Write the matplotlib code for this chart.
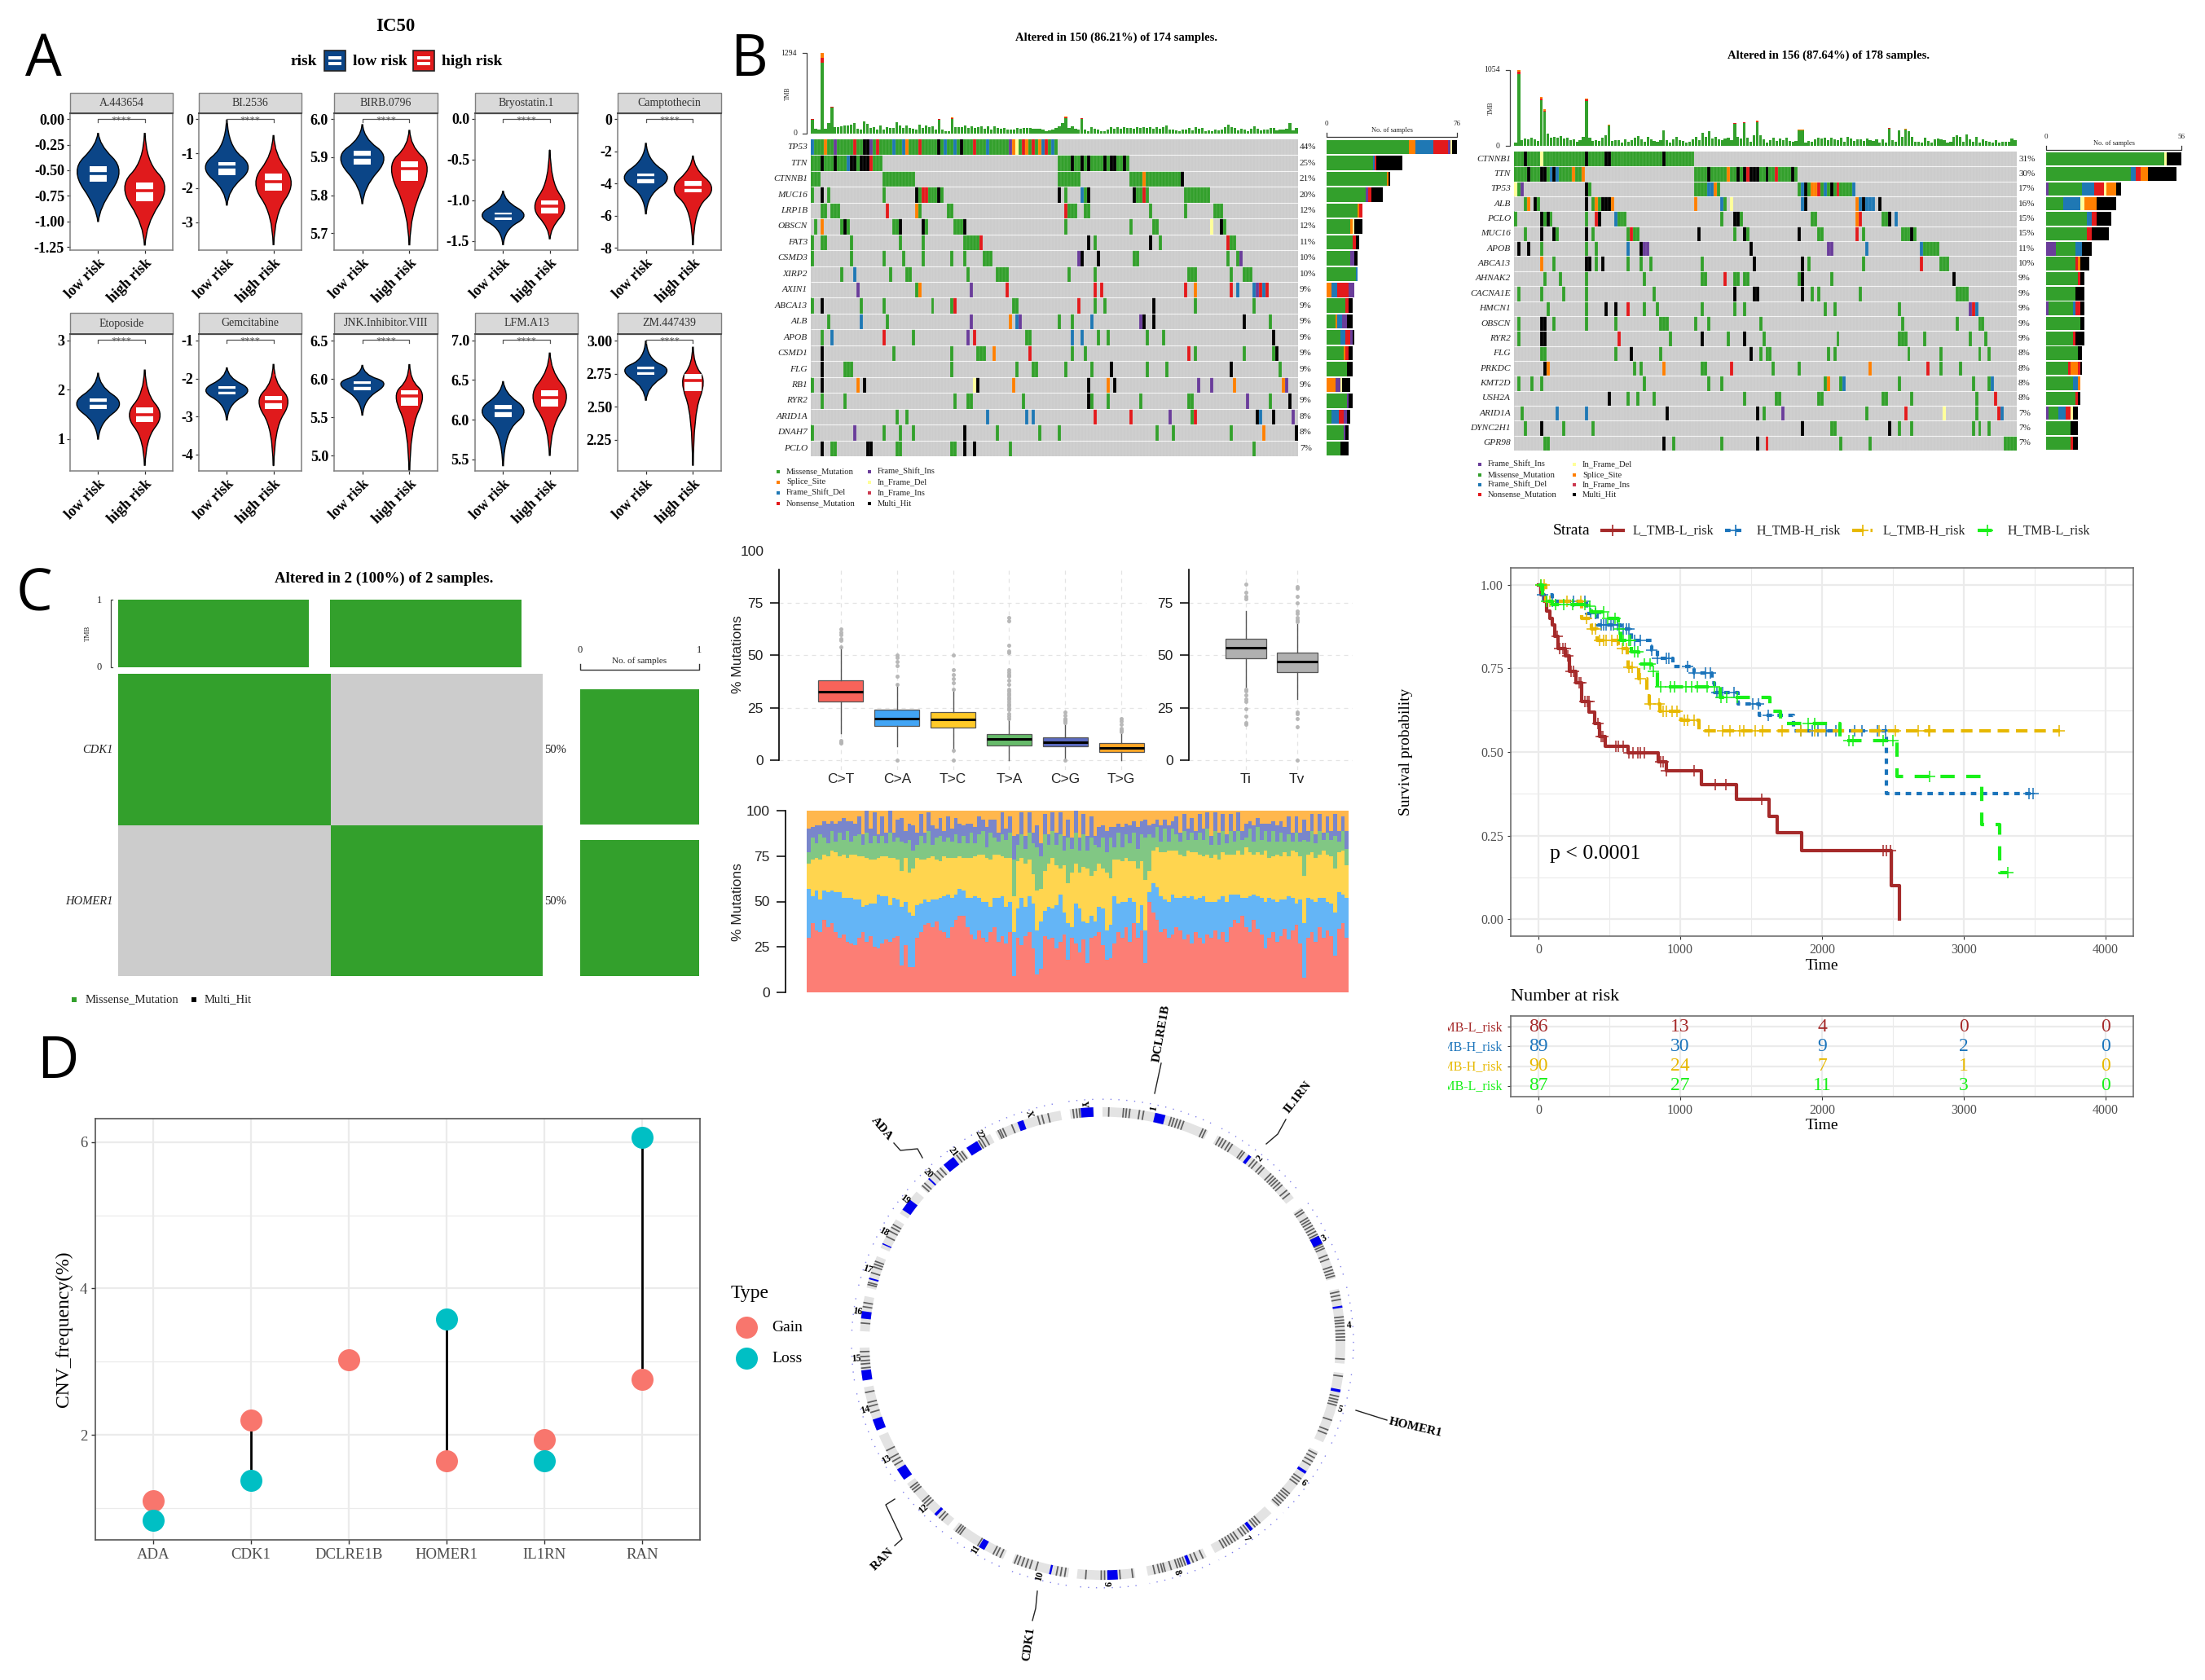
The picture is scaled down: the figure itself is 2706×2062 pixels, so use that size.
"""Composite figure: IC50 violins, oncoplots, TMB survival, CNV frequency and circos."""
import re

import matplotlib

matplotlib.use("Agg")
import matplotlib.pyplot as plt
import numpy as np
from matplotlib.colors import ListedColormap
from matplotlib.patches import PathPatch, Rectangle
from matplotlib.path import Path
from matplotlib.transforms import Bbox, TransformedBbox

W, H = 2706, 2062
SERIF = "Liberation Serif"
SANS = "Liberation Sans"
plt.rcParams["font.family"] = [SERIF, "DejaVu Sans"]

# ---- panel A
a_drugs = ["A.443654", "BI.2536", "BIRB.0796", "Bryostatin.1", "Camptothecin",
           "Etoposide", "Gemcitabine", "JNK.Inhibitor.VIII", "LFM.A13", "ZM.447439"]
a_ylims = [(-1.28, 0.057), (-3.81, 0.17), (5.656, 6.015), (-1.614, 0.07), (-8.14, 0.36),
           (0.356, 3.13), (-4.43, -0.83), (4.80, 6.59), (5.354, 7.08), (2.015, 3.05)]
a_ticks = [[0, -0.25, -0.5, -0.75, -1.0, -1.25], [0, -1, -2, -3], [6.0, 5.9, 5.8, 5.7],
           [0, -0.5, -1.0, -1.5], [0, -2, -4, -6, -8], [3, 2, 1], [-1, -2, -3, -4],
           [6.5, 6.0, 5.5, 5.0], [7.0, 6.5, 6.0, 5.5], [3.0, 2.75, 2.5, 2.25]]
a_ticklabels = [["0.00", "-0.25", "-0.50", "-0.75", "-1.00", "-1.25"], ["0", "-1", "-2", "-3"],
                ["6.0", "5.9", "5.8", "5.7"], ["0.0", "-0.5", "-1.0", "-1.5"],
                ["0", "-2", "-4", "-6", "-8"], ["3", "2", "1"], ["-1", "-2", "-3", "-4"],
                ["6.5", "6.0", "5.5", "5.0"], ["7.0", "6.5", "6.0", "5.5"],
                ["3.00", "2.75", "2.50", "2.25"]]
# lo tip, lower neck, widest, upper neck, hi tip, half width, q1, median, q3, outliers
a_low = [(-1.00, -0.87, -0.50, -0.25, -0.14, .45, -0.61, -0.53, -0.46, []),
         (-2.50, -2.07, -1.40, -0.78, -0.03, .46, -1.62, -1.40, -1.25, [-2.2]),
         (5.778, 5.82, 5.90, 5.95, 5.985, .46, 5.88, 5.90, 5.916, [5.82]),
         (-1.546, -1.365, -1.187, -1.005, -0.89, .45, -1.246, -1.195, -1.153, [-1.42]),
         (-5.885, -4.75, -3.65, -2.5, -1.51, .46, -4.0, -3.65, -3.37, [-5.1]),
         (1.0, 1.32, 1.72, 2.08, 2.335, .46, 1.61, 1.72, 1.824, [2.15]),
         (-3.09, -2.69, -2.31, -1.97, -1.72, .45, -2.42, -2.31, -2.21, []),
         (5.53, 5.73, 5.95, 6.06, 6.18, .46, 5.85, 5.915, 5.97, [5.68]),
         (5.42, 5.845, 6.11, 6.34, 6.48, .45, 6.03, 6.11, 6.19, [5.76]),
         (2.55, 2.644, 2.78, 2.863, 2.997, .45, 2.74, 2.773, 2.804, [])]
a_high = [(-1.23, -1.03, -0.66, -0.41, -0.14, .43, -0.80, -0.70, -0.62, [-1.09, -0.35]),
          (-3.65, -2.77, -1.85, -1.03, -0.48, .38, -2.07, -1.83, -1.58, [-0.83, -2.75]),
          (5.67, 5.754, 5.877, 5.93, 5.97, .38, 5.838, 5.869, 5.889, [5.755]),
          (-1.474, -1.343, -1.09, -0.773, -0.384, .32, -1.162, -1.077, -1.00, [-0.75]),
          (-7.8, -5.6, -4.33, -3.05, -2.3, .40, -4.54, -4.22, -3.84, [-5.8]),
          (0.47, 1.0, 1.49, 1.94, 2.40, .33, 1.34, 1.49, 1.64, [0.87, 2.08]),
          (-4.29, -3.32, -2.58, -2.1, -1.63, .31, -2.8, -2.6, -2.45, [-3.3, -1.9]),
          (4.77, 5.35, 5.80, 5.99, 6.19, .28, 5.65, 5.78, 5.85, [5.36]),
          (5.55, 5.91, 6.30, 6.62, 6.84, .36, 6.17, 6.28, 6.375, [5.91, 6.68]),
          (2.057, 2.44, 2.70, 2.825, 2.95, .22, 2.62, 2.696, 2.747, [2.44])]
LOW_COL = "#0B4587"
HIGH_COL = "#E01A1C"

# ---- oncoplots: tokens are sample column (or range) + mutation code
CODES = "msdnifrh"
ONCO_COLS = ["#CCCCCC", "#33A02C", "#FF7F00", "#1F78B4", "#E31A1C", "#6A3D9A", "#FFFF99", "#CC3A50", "#000000"]
LEG_NAMES = {"m": "Missense_Mutation", "s": "Splice_Site", "d": "Frame_Shift_Del", "n": "Nonsense_Mutation",
             "i": "Frame_Shift_Ins", "f": "In_Frame_Del", "r": "In_Frame_Ins", "h": "Multi_Hit"}

left_genes = ["TP53", "TTN", "CTNNB1", "MUC16", "LRP1B", "OBSCN", "FAT3", "CSMD3", "XIRP2", "AXIN1",
              "ABCA13", "ALB", "APOB", "CSMD1", "FLG", "RB1", "RYR2", "ARID1A", "DNAH7", "PCLO"]
left_pcts = [44, 25, 21, 20, 12, 12, 11, 10, 10, 9, 9, 9, 9, 9, 9, 9, 9, 8, 8, 7]
left_rows = [
    "0-75m 0d 4s 7i 13n 16-17h 18i 20n 25d 28d 29s 33n 39h 41d 44d 46h 50n 54d 61i 62s 63f 65n 66s 68n 70s 71d 72n 74d",
    "0-21m 3h 7h 11d 12-13h 15-17h 18n 76-97m 80h 83h 85h 90h 92-93h 96h",
    "0-2m 22-31m 76-82m 98-114m 102s 114h",
    "0m 3h 5m 22m 32h 33m 34-35n 36-38m 39h 40m 76h 78m 83d 84m 85h 99h 100-101m 102n 103m 115-122m",
    "3-4m 6-8m 23n 32s 33m 42-43m 78n 79-81m 84-85m 104m 115m 124-126m",
    "1m 3s 9m 10h 11m 25-26m 27h 34h 35m 44-46m 47h 78m 98m 105-106m 123f 126h 127m",
    "0m 3-4m 12m 27m 34m 47-51m 52n 85h 87m 104h 107m 128n 129-130m",
    "0m 12m 22m 28m 34m 43m 47m 53-55m 82i 83h 88h 99-100m 128m 131m 132i",
    "9m 13d 24m 29-30m 48m 57-60m 79m 87m 116-118m 129m 133-135m",
    "14i 32m 33s 49i 60n 87n 89n 115n 118s 129n 131d 136d 137i 138n 139d 140n",
    "0m 3h 15m 22m 37m 43m 44n 62-63m 82n 87m 90m 105h 118m 136m",
    "5m 15d 23m 49i 61s 63d 64i 76m 80m 86d 101i 102h 105h 133h 141m",
    "3m 6d 22n 31m 48i 50n 66-67m 80d 83d 88m 91m 103m 108m 142h",
    "3h 25m 43m 51-52m 53m 56s 67n 80m 84m 116n 118m 133m 142m 143h",
    "3h 10-12m 43m 63m 68-69m 78m 86m 92h 103m 109m 129h 144m",
    "0m 3h 14s 16h 50f 51h 62s 85h 91s 93h 119i 123i 130s 145s 146i",
    "3m 10m 44m 48-49m 65m 85h 86m 91m 101m 116-117m 134i 141m 147h",
    "26m 29m 54d 66d 68d 87n 98n 110i 117m 118n 137h 138d 142h 148i",
    "0m 13i 22m 27m 31m 47h 57m 70m 76m 106m 111m 129m 139s 149h",
    "3h 6-7m 17-18h 26-27m 43-44m 47h 50h 61m 136m",
]
left_bars = ["m48 s4 d10 n9 i1 f1 h3", "m27 d1 n1 h15", "m35 s1 h1", "m23 i1 n2 h7", "m18 s1 n2", "m14 s1 f1 h5",
             "m15 n2 h2", "m14 i2 h2", "m17 d1", "s3 d3 n7 i3", "m11 n2 h2", "m5 s1 d3 i3 h3", "m8 d3 n3 i1 h1",
             "m10 s1 n2 h2", "m12 h3", "s5 i3 f1 h5", "m12 i1 h2", "m3 d4 n3 i2 h2", "m10 i1 h2", "m8 h5"]
left_tmb = [240, 75, 70, 1294, 75, 175, 436, 110, 110, 120,
            130, 135, 150, 175, 75, 60, 190, 160, 85, 110,
            65, 130, 70, 105, 90, 95, 180, 130, 85, 130,
            95, 80, 70, 145, 85, 130, 110, 120, 60, 240,
            65, 40, 40, 255, 110, 105, 110, 125, 95, 115,
            90, 110, 120, 80, 115, 65, 120, 90, 75, 95,
            60, 70, 65, 90, 80, 95, 85, 90, 80, 80,
            75, 60, 45, 50, 70, 95, 120, 170, 270, 85,
            115, 75, 60, 250, 60, 35, 110, 80, 60, 45,
            35, 60, 105, 75, 110, 80, 105, 90, 95, 80,
            100, 90, 100, 95, 105, 75, 110, 80, 105, 130,
            70, 60, 55, 40, 60, 60, 85, 55, 100, 75,
            85, 35, 50, 40, 65, 50, 70, 105, 140, 110,
            90, 50, 80, 70, 40, 75, 120, 80, 50, 65,
            60, 90, 85, 50, 70, 60, 80, 170, 55, 90]
left_top_cols = [0, 3, 5, 6, 39, 43, 78, 83]
left_top_vals = [15, 160, 10, 20, 15, 20, 18, 12]
left_legend = [["m", "s", "d", "n"], ["i", "f", "r", "h"]]

right_genes = ["CTNNB1", "TTN", "TP53", "ALB", "PCLO", "MUC16", "APOB", "ABCA13", "AHNAK2", "CACNA1E",
               "HMCN1", "OBSCN", "RYR2", "FLG", "PRKDC", "KMT2D", "USH2A", "ARID1A", "DYNC2H1", "GPR98"]
right_pcts = [31, 30, 17, 16, 15, 15, 11, 10, 9, 9, 9, 9, 9, 8, 8, 8, 8, 7, 7, 7]
right_rows = [
    "0-55m 3h 8f 22h 28-29h 46h",
    "0-21m 4h 8-9h 11d 12h 13d 18s 21s 56-87m 60h 66s 69h 71h 72n 73-75h 78h 81n 86h",
    "0f 1m 2i 22h 23m 56-63m 60-61d 62s 88-105m 89d 90h 92-93s 94n 96d 98h 100n 105d",
    "3m 4s 6h 7m 22h 24m 25s 26m 27-29h 30s 56s 64d 65m 67f 89d 90h 106s 107d 108h 109-111d 113h",
    "0m 8h 9m 10h 11m 22m 25n 26h 31d 32-34m 64m 68-69h 70m 92-93m 106s 107n 114-115m 116h 118d",
    "3m 8h 12h 13m 22h 24m 35m 36n 37-38m 57h 68m 71h 72m 88h 94-95m 106n 108m 120-122m 123h 124m",
    "1h 4h 8m 22m 25m 35d 39h 40-41i 73h 97-98i 109d 126d 127-131m",
    "8s 12m 22-23h 25m 27h 35m 39m 42m 58m 74h 89h 91m 108m 126n 132-134m",
    "9m 14m 22m 40m 58-59m 65n 68-69m 71-72m 88m 89h 98m 136h",
    "1m 8m 15m 22m 43m 68h 74-75h 89h 92m 94m 107m 137-140m",
    "10m 22m 28h 31h 35n 40m 44m 58m 68m 71m 96m 99m 119m 141i 142n 143d",
    "1m 8-9h 12m 22m 31m 45-47m 56m 60m 76m 120m 137m 144-145m",
    "1m 8-9h 32n 48m 58h 66m 71h 77m 100m 119-121m 127m 141m 146m",
    "8-9m 31m 36h 45m 73h 76m 78-79m 97m 99m 122m 132m 144m 147m",
    "9h 10s 37m 39m 46s 58-59m 67n 80m 88m 110s 128n 132m 138m",
    "1m 5m 8m 40m 60m 64m 96m 97s 101m 102d 119m 142m 147m 148d",
    "29h 35m 38m 43m 71m 81-82m 94-95m 114-115m 123m 143m 149n",
    "2m 13d 22d 47h 75h 77m 83i 109m 121n 133f 143m 150n 151d",
    "3m 8h 15m 24m 89h 98-99m 116h 119m 123m 142m 144m 147m",
    "9-10m 46h 49m 64m 75h 78n 101m 110m 152-155m",
]
right_bars = ["m49 f1 h6", "m35 d2 n2 s3 h12", "i1 m14 d5 n4 f1 s4 h2", "m7 d7 f2 s5 h8", "m17 d2 n2 h6", "m17 n2 h7",
              "i4 m8 d3 h4", "m12 n1 s1 h4", "m13 n1 h2", "m12 h4", "i1 m10 d1 n2 h2", "m14 h2", "m11 n1 h4", "m13 h2",
              "m9 n1 s3 n1 h1", "m11 d2 s1", "m12 n1 h1", "i1 m4 d3 n2 f1 h2", "m10 h3", "m10 n1 h2"]
right_tmb = [40, 1054, 85, 100, 90, 115, 90, 65, 680, 505,
             170, 110, 120, 110, 135, 105, 110, 85, 95, 60,
             85, 130, 660, 110, 70, 75, 70, 110, 150, 290,
             65, 75, 85, 45, 90, 60, 85, 110, 140, 90,
             60, 125, 90, 70, 60, 80, 210, 80, 50, 90,
             120, 80, 70, 45, 60, 95, 120, 80, 180, 120,
             200, 100, 120, 90, 80, 100, 110, 75, 320, 120,
             100, 330, 110, 60, 145, 350, 150, 90, 50, 80,
             110, 70, 100, 80, 110, 70, 60, 65, 225, 225,
             50, 70, 60, 90, 110, 100, 110, 85, 110, 90,
             75, 110, 60, 130, 100, 70, 90, 90, 70, 100,
             75, 65, 95, 50, 90, 40, 250, 80, 60, 210,
             120, 235, 205, 120, 60, 55, 40, 110, 70, 50,
             90, 100, 90, 80, 50, 60, 130, 150, 120, 60,
             160, 90, 60, 120, 50, 95, 70, 60, 40, 75,
             50, 60, 60, 55, 100, 80]
right_top_cols = [1, 8, 9, 22, 29, 68, 71, 75, 88, 89, 116, 121]
right_top_vals = [55, 45, 30, 40, 12, 15, 15, 18, 10, 10, 10, 10]
right_legend = [["i", "m", "d", "n"], ["f", "s", "r", "h"]]

# ---- panel C, titv boxes
sub_names = ["C>T", "C>A", "T>C", "T>A", "C>G", "T>G"]
sub_cols = ["#F8635A", "#42A5F5", "#FFCA28", "#66BB6A", "#5C6BC0", "#FFA726"]
sub_q1 = [28, 16.5, 15.5, 7, 6.5, 4]
sub_med = [32.5, 20, 19.5, 10, 8.5, 6]
sub_q3 = [38, 24, 23, 12.5, 11, 8]
sub_lo = [13, 6.5, 5, 0, 0.5, 0]
sub_hi = [54, 36, 34, 20, 17, 13]
sub_fliers = [[62.5, 61, 60, 58, 57, 54, 9.5, 8.5, 8],
              [50, 49, 47, 45, 40, 36, 0],
              [50, 43, 41, 39, 37, 34, 4.7, 0],
              [68, 66.5, 55, 52, 51.5, 43, 42, 41, 40, 38, 36, 34, 33, 32, 31, 30, 29, 28, 27, 26, 25, 24, 22, 21, 20],
              [23, 21.5, 20, 19.5, 19, 18.5, 18, 0],
              [20, 18.5, 17, 15, 14.5, 14, 13.5]]
titv_names = ["Ti", "Tv"]
titv_q1 = [48.5, 42]
titv_med = [53.5, 47]
titv_q3 = [58, 51.5]
titv_lo = [35, 29]
titv_hi = [71, 65]
titv_fliers = [[84, 80, 78, 77, 34, 33, 31, 29, 28, 24.5, 21, 18, 17],
               [83, 82, 78, 75, 71, 70, 68, 67, 66, 23, 22, 20, 16, 0]]

stack_ct = [30, 38, 34, 33, 40, 36, 38, 33, 30, 32, 28, 27, 26, 30, 33, 28, 31, 25, 24, 27,
            29, 28, 30, 31, 15, 26, 14, 14, 30, 33, 37, 38, 36, 39, 34, 33, 30, 36, 40, 42,
            42, 36, 32, 29, 34, 30, 28, 33, 36, 28, 31, 27, 33, 9, 30, 26, 31, 33, 24, 10,
            13, 31, 29, 30, 24, 28, 32, 18, 30, 27, 22, 29, 16, 30, 31, 33, 26, 18, 19, 27,
            33, 30, 36, 28, 38, 30, 34, 16, 50, 44, 40, 33, 35, 30, 32, 36, 34, 29, 32, 27,
            33, 30, 27, 32, 30, 34, 29, 33, 28, 36, 40, 38, 42, 36, 33, 40, 35, 32, 24, 30,
            33, 28, 31, 35, 29, 34, 37, 27, 8, 30, 33, 28, 36, 30, 34, 31, 20, 35, 38, 30]
stack_ca = [27, 15, 22, 18, 16, 19, 18, 22, 25, 20, 24, 25, 25, 21, 14, 20, 18, 24, 30, 26,
            24, 20, 22, 20, 32, 24, 30, 28, 18, 16, 14, 12, 15, 12, 18, 20, 24, 16, 14, 15,
            14, 16, 20, 24, 18, 20, 22, 14, 16, 24, 22, 20, 17, 24, 16, 26, 16, 20, 25, 24,
            26, 14, 18, 16, 24, 26, 12, 20, 6, 22, 24, 10, 22, 12, 8, 14, 20, 16, 18, 26,
            16, 20, 14, 24, 12, 8, 14, 18, 5, 16, 18, 20, 16, 20, 22, 16, 18, 24, 20, 26,
            18, 22, 26, 18, 20, 16, 22, 20, 22, 18, 14, 16, 10, 16, 20, 14, 18, 20, 26, 22,
            18, 22, 20, 16, 24, 18, 12, 24, 30, 22, 18, 22, 16, 22, 16, 18, 24, 20, 16, 22]
stack_tc = [14, 20, 18, 22, 20, 20, 22, 22, 20, 24, 22, 24, 25, 24, 28, 26, 24, 24, 20, 22,
            22, 26, 22, 22, 20, 24, 22, 26, 26, 24, 22, 24, 24, 22, 20, 22, 20, 22, 20, 18,
            18, 22, 22, 22, 24, 26, 24, 26, 24, 24, 22, 27, 24, 20, 26, 22, 24, 20, 16, 22,
            18, 22, 24, 28, 22, 14, 26, 22, 30, 22, 20, 30, 30, 22, 28, 24, 22, 32, 26, 20,
            24, 22, 24, 20, 22, 30, 24, 28, 12, 18, 22, 24, 26, 28, 24, 26, 24, 22, 26, 24,
            26, 24, 22, 26, 24, 26, 22, 24, 26, 22, 22, 24, 24, 28, 24, 22, 24, 24, 28, 22,
            24, 26, 24, 26, 22, 26, 28, 24, 26, 24, 26, 24, 24, 26, 26, 26, 24, 22, 24, 18]
stack_ta = [6, 12, 8, 14, 9, 7, 11, 6, 13, 8, 15, 7, 10, 12, 6, 14, 9, 13, 8, 11,
            7, 14, 9, 12, 16, 8, 18, 10, 7, 13, 9, 15, 6, 12, 14, 8, 11, 9, 13, 7,
            12, 8, 14, 7, 11, 13, 6, 15, 9, 7, 12, 10, 14, 20, 9, 13, 8, 15, 17, 24,
            18, 20, 10, 15, 11, 19, 8, 25, 13, 17, 12, 18, 10, 21, 14, 9, 17, 11, 22, 7,
            15, 8, 13, 10, 16, 11, 15, 23, 20, 7, 11, 6, 13, 5, 12, 9, 7, 14, 6, 11,
            7, 12, 9, 14, 7, 13, 8, 12, 6, 13, 7, 11, 8, 5, 13, 7, 14, 8, 11, 9,
            14, 7, 13, 6, 12, 5, 11, 8, 20, 7, 12, 8, 13, 6, 12, 9, 18, 6, 11, 9]
stack_cg = [13, 6, 10, 5, 9, 11, 5, 10, 6, 12, 5, 11, 7, 10, 6, 12, 8, 13, 5, 11,
            6, 12, 5, 10, 13, 7, 9, 14, 7, 12, 6, 10, 11, 5, 10, 6, 12, 7, 9, 11,
            6, 11, 5, 9, 10, 6, 11, 7, 10, 5, 12, 6, 9, 13, 6, 12, 7, 11, 6, 12,
            7, 11, 6, 10, 7, 12, 8, 10, 6, 13, 7, 11, 8, 12, 5, 11, 7, 12, 6, 11,
            5, 11, 6, 10, 6, 12, 7, 10, 5, 8, 4, 9, 5, 9, 4, 10, 5, 9, 6, 8,
            5, 10, 6, 9, 5, 10, 7, 9, 5, 9, 6, 10, 5, 8, 4, 9, 5, 9, 4, 10,
            5, 9, 6, 8, 10, 5, 9, 5, 11, 6, 9, 5, 9, 4, 9, 5, 12, 6, 8, 10]
stack_cols = ["#FC7E75", "#64B5F6", "#FFD54F", "#81C784", "#7986CB", "#FFB74D"]

# ---- survival
km_names = ["L_TMB-L_risk", "H_TMB-H_risk", "L_TMB-H_risk", "H_TMB-L_risk"]
km_cols = ["#A52A2A", "#1B74BB", "#E7B800", "#19F019"]
km_ls = ["-", (0, (1.6, 1.6)), (0, (3.4, 2.0)), (0, (4.2, 3.4))]
km_t = [[0, 20, 40, 60, 80, 100, 118, 137, 192, 221, 266, 303, 358, 395, 432, 469, 635, 845, 904, 1151, 1399, 1624, 1686, 1856, 2487, 2546],
        [0, 30, 100, 340, 413, 579, 653, 800, 838, 948, 1096, 1225, 1244, 1410, 1557, 1797, 2454, 3494],
        [0, 50, 303, 376, 413, 561, 624, 635, 708, 764, 782, 856, 1004, 1133, 3680],
        [0, 30, 100, 340, 376, 469, 561, 579, 653, 708, 800, 838, 1280, 1631, 1705, 2129, 2528, 3125, 3255, 3310]]
km_s = [[1.0, .97, .95, .92, .90, .88, .845, .81, .787, .74, .707, .65, .62, .586, .546, .518, .497, .472, .443, .403, .36, .308, .258, .205, .102, 0.0],
        [1.0, .97, .95, .913, .879, .867, .833, .804, .779, .756, .735, .707, .678, .644, .609, .564, .375, .375],
        [1.0, .95, .90, .867, .833, .81, .787, .753, .718, .667, .644, .621, .596, .564, .564],
        [1.0, .95, .94, .936, .919, .90, .867, .833, .80, .764, .741, .695, .663, .621, .586, .533, .426, .283, .14, .14]]
km_cens = [[130, 150, 170, 190, 210, 230, 250, 290, 300, 330, 345, 355, 420, 440, 455, 545, 565, 600, 640, 665, 700, 720, 745, 860, 880, 905, 1100, 1250, 1320, 1575, 2430, 2455, 2480],
           [30, 100, 250, 330, 370, 400, 440, 460, 480, 510, 530, 560, 600, 620, 640, 680, 720, 800, 840, 900, 920, 1050, 1100, 1180, 1210, 1260, 1300, 1380, 1510, 1550, 1620, 1850, 1930, 1970, 2030, 2100, 2230, 2280, 2390, 2450, 3460, 3490],
           [20, 40, 80, 200, 300, 340, 380, 400, 430, 460, 480, 520, 560, 590, 620, 640, 660, 720, 790, 850, 880, 900, 940, 980, 1030, 1050, 1100, 1200, 1300, 1350, 1420, 1450, 1530, 1580, 1720, 1850, 1950, 2400, 2520, 2680, 2750, 2760, 3670],
           [20, 60, 120, 180, 240, 330, 360, 400, 460, 490, 540, 570, 600, 640, 650, 680, 700, 750, 790, 810, 860, 930, 960, 1040, 1080, 1120, 1190, 1240, 1290, 1330, 1400, 1900, 1950, 2190, 2220, 2430, 2500, 2760, 3310]]
risk_times = [0, 1000, 2000, 3000, 4000]
risk_rows = [[86, 13, 4, 0, 0], [89, 30, 9, 2, 0], [90, 24, 7, 1, 0], [87, 27, 11, 3, 0]]

# ---- CNV
cnv_genes = ["ADA", "CDK1", "DCLRE1B", "HOMER1", "IL1RN", "RAN"]
cnv_gain = [1.10, 2.20, 3.03, 1.65, 1.93, 2.76]
cnv_loss = [0.83, 1.38, np.nan, 3.58, 1.65, 6.06]

# ---- circos, angles clockwise from the top
chrom_names = [str(i) for i in range(1, 23)] + ["X", "Y"]
chrom_start = [0, 28.3, 54.9, 76.6, 97.2, 117.3, 135.9, 154.6, 172.2, 188.2, 204.2, 219.5, 235.7, 248.7, 261.3,
               273, 283.7, 293.9, 303.4, 311.5, 319.8, 326.6, 333.8, 352.2]
chrom_end = [25.8, 52, 73.9, 94.9, 114.7, 133.9, 152.4, 169.2, 186.1, 201.9, 218, 233.6, 247, 259.3, 269,
             281.6, 291.7, 301.7, 310, 318.7, 325, 332.4, 350, 358]
chrom_label_at = [12, 39.5, 64, 85.6, 105.9, 125.6, 144.4, 162.5, 179.2, 194.8, 211, 226.6, 241, 254, 266.3,
                  277.6, 288, 297.7, 306.8, 315, 322.8, 330.2, 342.7, 355.7]
blue_at = [13.8, 37.4, 63.9, 81, 101.6, 123.1, 142.1, 159.1, 177.6, 192.5, 209.9, 223.5, 236.3, 249.8, 262.2,
           277, 286, 295, 306, 314.3, 320.6, 327.4, 340.2, 356.3]
blue_w = [2.5, .8, 2, .5, .7, .7, .8, .8, 2.5, .5, 1.5, .7, 3, 2.8, 2.5, 1.8, .4, .3, 3, .4, 3, 3, 1.5, 3]
dark_at = [1.5, 5, 5.7, 6.5, 8.8, 9.8, 16.5, 17.2, 18, 18.8, 19.6, 24.5, 25.2,
           29, 29.8, 30.6, 31.6, 32.4, 35.2, 35.8, 38.8, 39.6, 41, 41.8, 44, 44.8, 45.5, 46.2, 47, 47.8, 49.5, 50.5,
           55.5, 56.2, 57.8, 58.5, 59.2, 60, 60.8, 61.6, 62.4, 63, 65, 65.6, 66.2, 68, 69, 71, 71.8, 72.6, 73.3,
           77.3, 78.2, 79.2, 83.5, 84.3, 85, 85.8, 86.8, 87.6, 88.4, 89.2, 93.8,
           98, 103, 103.8, 104.5, 105.2, 109, 111.5, 112.5,
           118, 119, 120, 121, 125, 125.8, 126.6, 129.5, 130.2, 131, 131.8, 132.6, 133.3,
           139.5, 140.3, 141, 143, 143.8, 144.6, 146, 146.8, 147.6, 148.4, 149.2, 150,
           155.5, 157, 158, 160, 160.7, 161.3, 162, 163.5, 165, 165.6, 166.4, 167.5,
           172.8, 175.8, 178.5, 179.5, 180.3, 184,
           189, 190, 191, 196, 197.5, 198.5, 199.5, 200.5, 201.3,
           205, 206, 206.8, 211, 216, 216.6, 217.2,
           221.5, 222.3, 226.5, 227.3, 228, 231, 231.7, 232.4,
           239, 240, 241, 243, 253, 254.5, 255.5, 258,
           264, 265, 265.8, 266.8, 268, 275, 279, 280,
           284.5, 285, 287.5, 289, 289.7, 290.4, 297, 298.5, 299.5, 300.3,
           312, 312.8, 316, 317, 318, 323, 323.8, 324.5, 328.5, 329.3, 330, 331,
           334.5, 335, 335.7, 338, 344.5, 345.5, 347, 353, 353.8, 354.5]

fig = plt.figure(figsize=(W / 100, H / 100), dpi=100, facecolor="white")


def ax_px(x0, y0, x1, y1, **kw):
    return fig.add_axes([x0 / W, 1 - y1 / H, (x1 - x0) / W, (y1 - y0) / H], **kw)


ov = fig.add_axes([0, 0, 1, 1], zorder=100)
ov.set_xlim(0, W)
ov.set_ylim(H, 0)
ov.axis("off")


def txt(x, y, s, size=10, ha="center", va="center", **kw):
    return ov.text(x, y, s, fontsize=size, ha=ha, va=va, **kw)


def violin_path(lo, shlo, peak, shhi, hi, w, xc):
    ys = [lo, shlo, peak, shhi, hi]
    hw = [.008, .06 * w, 1.31 * w, .06 * w, .008]
    ctrl = [(xc + h, y) for h, y in zip(hw, ys)] + [(xc - h, y) for h, y in zip(hw[::-1], ys[::-1])]
    verts = [ctrl[0]]
    codes = [Path.MOVETO]
    for k, side in enumerate((ctrl[:5], ctrl[5:])):
        if k:
            verts.append(side[0])
            codes.append(Path.LINETO)
        for i in range(1, 4):
            nxt = side[i + 1] if i == 3 else ((side[i][0] + side[i + 1][0]) / 2, (side[i][1] + side[i + 1][1]) / 2)
            verts += [side[i], nxt]
            codes += [Path.CURVE3, Path.CURVE3]
    verts.append(ctrl[0])
    codes.append(Path.CLOSEPOLY)
    return Path(verts, codes)


def draw_violin(ax, spec, xc, col):
    lo, shlo, peak, shhi, hi, w, q1, med, q3, fl = spec
    ax.add_patch(PathPatch(violin_path(lo, shlo, peak, shhi, hi, w, xc), fc=col, ec="black", lw=1.0))
    ax.add_patch(Rectangle((xc - .18, q1), .36, q3 - q1, fc="white", ec="none", zorder=3))
    ax.plot([xc - .18, xc + .18], [med, med], color=col, lw=2.6, solid_capstyle="butt", zorder=4)
    if fl:
        ax.plot([xc] * len(fl), fl, "o", ms=2.4, color=col, alpha=.7, mew=0, zorder=4)


a_cols = [(86, 212), (244, 370), (410, 537), (583, 709), (758, 885)]
a_rows = [(114, 139, 307), (384, 410, 578)]
for i, drug in enumerate(a_drugs):
    x0, x1 = a_cols[i % 5]
    ys, yt, yb = a_rows[i // 5]
    ax = ax_px(x0, yt, x1, yb)
    ax.set_xlim(.4, 2.6)
    ax.set_ylim(*a_ylims[i])
    draw_violin(ax, a_low[i], 1, LOW_COL)
    draw_violin(ax, a_high[i], 2, HIGH_COL)
    ax.set_xticks([1, 2])
    ax.set_xticklabels(["low risk", "high risk"], rotation=45, ha="right", va="top", rotation_mode="anchor",
                       fontsize=13, fontweight="bold")
    ax.set_yticks(a_ticks[i])
    ax.set_yticklabels(a_ticklabels[i], fontsize=13, fontweight="bold")
    ax.tick_params(length=3, width=.9, color="#333333", pad=2)
    for s in ax.spines.values():
        s.set_color("#7f7f7f")
        s.set_linewidth(1.1)
    tr = ax.get_xaxis_transform()
    ax.plot([1, 1, 2, 2], [.935, .957, .957, .935], color="#555555", lw=.9, transform=tr)
    ax.text(1.5, .948, "****", transform=tr, ha="center", va="center", fontsize=9, color="#555555", zorder=6)
    ov.add_patch(Rectangle((x0, ys), x1 - x0, yt - ys, fc="#D9D9D9", ec="#7f7f7f", lw=1))
    ov.plot([x0, x1], [yt, yt], color="#444444", lw=1.3)
    txt((x0 + x1) / 2, (ys + yt) / 2, drug, 10, color="#333333")

txt(485, 33, "IC50", 16.5, fontweight="bold")
txt(373, 75, "risk", 14, fontweight="bold")
txt(433, 75, "low risk", 14, ha="left", fontweight="bold")
txt(542, 75, "high risk", 14, ha="left", fontweight="bold")
for kx, kc in ((398, LOW_COL), (507, HIGH_COL)):
    ov.add_patch(Rectangle((kx, 62), 26, 25, fc=kc, ec="#222222", lw=1.2))
    ov.add_patch(Rectangle((kx + 5, 68.5), 16, 4, fc="white", ec="none"))
    ov.add_patch(Rectangle((kx + 5, 76), 16, 4, fc="white", ec="none"))

for letter, lx, ly in (("A", 31, 93), ("B", 896, 93), ("C", 20, 750), ("D", 45, 1323)):
    txt(lx, ly, letter, 51, ha="left", va="baseline", family="Open Sans")


def parse_rows(rows, ncol):
    mat = np.zeros((len(rows), ncol), dtype=int)
    for r, row in enumerate(rows):
        for tok in row.split():
            m = re.fullmatch(r"(\d+)(?:-(\d+))?([a-z])", tok)
            a = int(m.group(1))
            b = int(m.group(2) or a)
            mat[r, a:b + 1] = CODES.index(m.group(3)) + 1
    return mat


def draw_onco(rows, genes, pcts, bars, tmb, top_cols, top_vals, tmb_max, bar_max, box, legend, legend_pos, title, title_xy):
    mx0, my0, mx1, my1, ty0, ty1, bx0, bx1 = box
    ncol = len(tmb)
    mat = parse_rows(rows, ncol)
    ax = ax_px(mx0, my0, mx1, my1)
    ax.pcolormesh(np.arange(ncol + 1), np.arange(len(rows) + 1), mat, cmap=ListedColormap(ONCO_COLS), vmin=0, vmax=8,
                  linewidth=0, rasterized=True)
    ax.vlines(np.arange(1, ncol), 0, len(rows), color="white", lw=.3, alpha=.35)
    ax.hlines(np.arange(1, len(rows)), 0, ncol, color="white", lw=.8, alpha=.8)
    ax.set_ylim(len(rows), 0)
    ax.axis("off")

    # TMB bars sit above the matrix
    tx = ax_px(mx0, ty0, mx1, ty1)
    vals = np.array(tmb, float)
    tops = np.zeros(ncol)
    tops[top_cols] = top_vals
    tx.bar(np.arange(ncol) + .5, vals - tops, width=.8, color=ONCO_COLS[1])
    tx.bar(np.arange(ncol) + .5, tops * .55, bottom=vals - tops, width=.8, color=ONCO_COLS[4])
    tx.bar(np.arange(ncol) + .5, tops * .45, bottom=vals - tops * .45, width=.8, color=ONCO_COLS[2])
    tx.set_xlim(0, ncol)
    tx.set_ylim(0, tmb_max)
    tx.axis("off")
    ov.plot([mx0 - 10, mx0 - 5, mx0 - 5, mx0 - 10], [ty0, ty0, ty1, ty1], color="#444444", lw=.9)
    txt(mx0 - 17, ty0, str(tmb_max), 7, ha="right", color="#222222")
    txt(mx0 - 17, ty1, "0", 7, ha="right", color="#222222")
    txt(mx0 - 28, (ty0 + ty1) / 2, "TMB", 5.5, rotation=90, color="#222222")

    # stacked counts on the right
    bx = ax_px(bx0, my0, bx1, my1)
    for r, row in enumerate(bars):
        left = 0
        for tok in row.split():
            n = int(tok[1:])
            bx.barh(r + .5, n, left=left, height=.9, color=ONCO_COLS[CODES.index(tok[0]) + 1])
            left += n
    bx.set_xlim(0, bar_max)
    bx.set_ylim(len(rows), 0)
    bx.axis("off")
    rh = (my1 - my0) / len(rows)
    for r, (g, p) in enumerate(zip(genes, pcts)):
        txt(mx0 - 4, my0 + rh * (r + .5), g, 8.2, ha="right", style="italic", color="#222222")
        txt(mx1 + 2, my0 + rh * (r + .5), f"{p}%", 8, ha="left", color="#222222")
    by = ty1 - 1 if ty1 < 170 else ty1
    ov.plot([bx0, bx0, bx1, bx1], [by, by + 5, by + 5, by], color="#333333", lw=.9)
    txt(bx0, by - 11, "0", 6.5, color="#222222")
    txt(bx1, by - 11, str(bar_max), 6.5, color="#222222")
    txt((bx0 + bx1) / 2, by - 3, "No. of samples", 6, color="#222222")
    txt(title_xy[0], title_xy[1], title, 10.5, fontweight="bold")

    (x_a, x_b), lys = legend_pos
    for lx, col_keys in zip((x_a, x_b), legend):
        for ly, key in zip(lys, col_keys):
            ov.plot(lx, ly, "s", ms=3.4, color=ONCO_COLS[CODES.index(key) + 1], mew=0)
            txt(lx + 10, ly, LEG_NAMES[key], 7.6, ha="left", color="#222222")


draw_onco(left_rows, left_genes, left_pcts, left_bars, left_tmb, left_top_cols, left_top_vals, 1294, 76,
          (995, 171, 1593, 560, 65, 164, 1628, 1788), left_legend, ((955, 1067), (579, 592, 605, 618)),
          "Altered in 150 (86.21%) of 174 samples.", (1370, 46))
draw_onco(right_rows, right_genes, right_pcts, right_bars, right_tmb, right_top_cols, right_top_vals, 1054, 56,
          (1858, 186, 2475, 553, 86, 179, 2511, 2677), right_legend, ((1816, 1932), (570, 583, 595, 607)),
          "Altered in 156 (87.64%) of 178 samples.", (2244, 68))

# panel C, 2 samples 2 genes
cx = ax_px(145, 827, 666, 1198)
c_matrix = [[1, 0], [0, 1]]
cx.pcolormesh(np.arange(3), np.arange(3), c_matrix, cmap=ListedColormap([ONCO_COLS[0], ONCO_COLS[1]]), vmin=0, vmax=1,
              linewidth=0)
cx.set_ylim(2, 0)
cx.axis("off")
ctb = ax_px(145, 736, 666, 819)
ctb.bar([.45, 1.45], [1, 1], width=.9, color=ONCO_COLS[1])
ctb.set_xlim(0, 2)
ctb.set_ylim(0, 1)
ctb.axis("off")
cbr = ax_px(712, 827, 858, 1198)
cbr.barh([.55, 1.55], [1, 1], height=.9, color=ONCO_COLS[1])
cbr.set_xlim(0, 1)
cbr.set_ylim(2, 0)
cbr.axis("off")
ov.plot([138, 136, 136, 138], [736, 736, 819, 819], color="#444444", lw=.9)
txt(122, 737, "1", 9, color="#222222")
txt(122, 819, "0", 9, color="#222222")
txt(108, 777, "TMB", 6.5, rotation=90, color="#222222")
ov.plot([712, 712, 858, 858], [815, 822, 822, 815], color="#333333", lw=1)
txt(712, 798, "0", 9, color="#222222")
txt(858, 798, "1", 9, color="#222222")
txt(785, 811, "No. of samples", 8, color="#222222")
txt(471, 710, "Altered in 2 (100%) of 2 samples.", 13.6, fontweight="bold")
for gy, g in ((920, "CDK1"), (1106, "HOMER1")):
    txt(139, gy, g, 10.5, ha="right", style="italic", color="#222222")
    txt(668, gy, "50%", 10.5, ha="left", color="#222222")
ov.plot(91, 1227, "s", ms=5, color=ONCO_COLS[1], mew=0)
txt(105, 1227, "Missense_Mutation", 10.5, ha="left", color="#222222")
ov.plot(238, 1227, "s", ms=5, color="black", mew=0)
txt(251, 1227, "Multi_Hit", 10.5, ha="left", color="#222222")


def box_panel(box, xlim, names, q1, med, q3, lo, hi, fliers, cols):
    ax = ax_px(*box)
    stats = [dict(med=m, q1=a, q3=b, whislo=l, whishi=h, fliers=f)
             for m, a, b, l, h, f in zip(med, q1, q3, lo, hi, fliers)]
    pos = np.arange(1, len(names) + 1)
    art = ax.bxp(stats, positions=pos, widths=.8, patch_artist=True, showcaps=False, manage_ticks=False,
                 medianprops=dict(color="black", lw=2.2), whiskerprops=dict(color="#555555", lw=1),
                 boxprops=dict(edgecolor="#555555", lw=.9),
                 flierprops=dict(marker="o", ms=2.6, mfc="#b5b5b5", mec="#b5b5b5", alpha=.9))
    for patch, c in zip(art["boxes"], cols):
        patch.set_facecolor(c)
    ax.set_xlim(*xlim)
    ax.set_ylim(-4.66, 91)
    for yg in (0, 25, 50, 75):
        ax.axhline(yg, color="#e4e4e4", lw=.9, ls=(0, (4, 4)), zorder=0)
    for xg in pos:
        ax.axvline(xg, color="#e4e4e4", lw=.9, ls=(0, (4, 4)), zorder=0)
    for s in ("top", "right", "bottom"):
        ax.spines[s].set_visible(False)
    ax.spines["left"].set_bounds(0, 91)
    ax.spines["left"].set_linewidth(1.2)
    ax.set_yticks([0, 25, 50, 75])
    ax.tick_params(axis="y", length=8, width=1.1, labelsize=12.5, labelfontfamily=SANS, pad=6, labelcolor="#222222")
    ax.set_xticks(pos)
    ax.set_xticklabels(names, fontsize=12.5, family=SANS, color="#222222")
    ax.tick_params(axis="x", length=0, pad=3)
    return ax


box_panel((956, 699, 1407, 945), (-.104, 6.45), sub_names, sub_q1, sub_med, sub_q3, sub_lo, sub_hi, sub_fliers, sub_cols)
box_panel((1459, 699, 1660, 945), (-.116, 3.09), titv_names, titv_q1, titv_med, titv_q3, titv_lo, titv_hi, titv_fliers,
          ["#B0B0B0", "#B0B0B0"])
txt(923, 677, "100", 12.5, family=SANS, color="#222222")
txt(906, 803, "% Mutations", 12.5, rotation=90, family=SANS, color="#222222")

sx = ax_px(964, 995, 1655, 1218)
stack_all = np.array([stack_ct, stack_ca, stack_tc, stack_ta, stack_cg], float)
stack_x = np.arange(stack_all.shape[1])
bottom = np.zeros(len(stack_x))
for vals, c in zip(stack_all, stack_cols):
    sx.bar(stack_x, vals, bottom=bottom, width=1.0, color=c, linewidth=0)
    bottom += vals
sx.bar(stack_x, np.clip(100 - bottom, 0, None), bottom=bottom, width=1.0, color=stack_cols[5], linewidth=0)
sx.set_xlim(-.5 - 26 * 140 / 665, 139.5)
sx.set_ylim(0, 100)
for s in ("top", "right", "bottom"):
    sx.spines[s].set_visible(False)
sx.spines["left"].set_linewidth(1.2)
sx.set_xticks([])
sx.set_yticks([0, 25, 50, 75, 100])
sx.tick_params(axis="y", length=8, width=1.1, labelsize=12.5, labelfontfamily=SANS, pad=6, labelcolor="#222222")
txt(906, 1107, "% Mutations", 12.5, rotation=90, family=SANS, color="#222222")

# survival
km = ax_px(1854, 697, 2618, 1149)
km.set_xlim(-195, 4195)
km.set_ylim(-.05, 1.05)
km.set_xticks([0, 1000, 2000, 3000, 4000])
km.set_yticks([0, .25, .5, .75, 1])
km.set_yticklabels(["0.00", "0.25", "0.50", "0.75", "1.00"])
km.set_xticks([500, 1500, 2500, 3500], minor=True)
km.set_yticks([.125, .375, .625, .875], minor=True)
km.grid(True, which="major", color="#EBEBEB", lw=1.6)
km.grid(True, which="minor", color="#EBEBEB", lw=.8)
km.set_axisbelow(True)
km.tick_params(which="minor", length=0)
km.tick_params(which="major", labelsize=11.5, labelcolor="#4D4D4D", color="#333333", length=3)
for s in km.spines.values():
    s.set_color("#6f6f6f")
    s.set_linewidth(1.2)
for i in range(4):
    km.step(km_t[i], km_s[i], where="post", color=km_cols[i], ls=km_ls[i], lw=3.0, dash_capstyle="butt")
    cens_y = np.array(km_s[i])[np.searchsorted(km_t[i], km_cens[i], side="right") - 1]
    km.plot(km_cens[i], cens_y, "+", color=km_cols[i], ms=10, mew=1.1)
txt(1902, 1048, "p < 0.0001", 18.5, ha="left")
txt(1726, 923, "Survival probability", 14, rotation=90)
txt(2236, 1185, "Time", 14)
txt(1929, 651, "Strata", 14)
for (lx0, lx1, tx0), nm, c, ls in zip(((1966, 1992, 2004), (2117, 2143, 2156), (2273, 2298, 2311), (2427, 2451, 2464)),
                                      km_names, km_cols, km_ls):
    ov.plot([lx0, lx1], [651, 651], color=c, lw=3, ls=ls, dash_capstyle="butt")
    ov.plot((lx0 + lx1) / 2, 651, "+", color=c, ms=10, mew=1.2)
    txt(tx0, 651, nm, 11.5, ha="left", color="#222222")

# risk table
rk = ax_px(1854, 1247, 2618, 1346)
rk.set_xlim(-195, 4195)
rk.set_ylim(3.55, -.55)
rk.set_xticks(risk_times)
rk.set_yticks(range(4))
rk.set_yticklabels([])
rk.set_xticks([500, 1500, 2500, 3500], minor=True)
rk.grid(True, which="major", color="#EBEBEB", lw=1.6)
rk.grid(True, which="minor", axis="x", color="#EBEBEB", lw=.8)
rk.set_axisbelow(True)
rk.tick_params(which="minor", length=0)
rk.tick_params(which="major", labelsize=11.5, labelcolor="#4D4D4D", color="#333333", length=3)
for s in rk.spines.values():
    s.set_color("#6f6f6f")
    s.set_linewidth(1.2)
clip = TransformedBbox(Bbox([[1777 / W, 0], [1, 1]]), fig.transFigure)
for r in range(4):
    for t, n in zip(risk_times, risk_rows[r]):
        rk.text(t, r, str(n), color=km_cols[r], fontsize=17, ha="center", va="center")
    lab = txt(1844, 1261 + 24 * r, km_names[r], 11.5, ha="right", color=km_cols[r])
    lab.set_clip_box(clip)
    lab.set_clip_on(True)
txt(1854, 1224, "Number at risk", 16, ha="left")
txt(2236, 1381, "Time", 14)

# CNV lollipop
cn = ax_px(117, 1373, 859, 1890)
cn.set_xlim(.41, 6.59)
cn.set_ylim(.565, 6.32)
cnv_x = np.arange(1, 7)
cn.vlines(cnv_x, cnv_gain, cnv_loss, color="black", lw=2, zorder=2)
cn.scatter(cnv_x, cnv_gain, s=378, color="#F8766D", zorder=3, linewidths=0)
cn.scatter(cnv_x, cnv_loss, s=378, color="#00BFC4", zorder=3, linewidths=0)
cn.set_xticks(cnv_x)
cn.set_xticklabels(cnv_genes)
cn.set_yticks([2, 4, 6])
cn.set_yticks([1, 3, 5], minor=True)
cn.grid(True, which="major", color="#EBEBEB", lw=1.6)
cn.grid(True, which="minor", axis="y", color="#EBEBEB", lw=.9)
cn.set_axisbelow(True)
cn.tick_params(which="minor", length=0)
cn.tick_params(which="major", labelsize=13.5, labelcolor="#4D4D4D", color="#333333", length=3.5, width=1)
for s in cn.spines.values():
    s.set_color("#555555")
    s.set_linewidth(1.2)
txt(78, 1631, "CNV_frequency(%)", 17, rotation=90)
txt(920, 1588, "Type", 17)
for ly, c, nm in ((1629, "#F8766D", "Gain"), (1667, "#00BFC4", "Loss")):
    ov.scatter([916], [ly], s=378, color=c, linewidths=0)
    txt(947, ly, nm, 14, ha="left")

# circos ring, slightly wider than tall as in the source
cc = ax_px(1013, 1318, 1693, 1980, projection="polar")
cc.set_aspect("auto")
cc.set_theta_zero_location("N")
cc.set_theta_direction(-1)
cc.set_rlim(0, 340)
cc.axis("off")
RING_IN, RING_H = 286, 12
for a, b in zip(chrom_start, chrom_end):
    cc.bar(np.radians((a + b) / 2), RING_H, width=np.radians(b - a), bottom=RING_IN, color="#E3E3E3", linewidth=0)
    arc = np.radians(np.linspace(a, b, 30))
    cc.plot(arc, np.full(30, 308.0), color="#6a6ae6", lw=1, alpha=.85, ls=(0, (1, 6)))
cc.bar(np.radians(dark_at), RING_H, width=np.radians(.35), bottom=RING_IN, color="#5f5f5f", linewidth=0)
cc.bar(np.radians(blue_at), RING_H, width=np.radians(blue_w), bottom=RING_IN, color="#0000EE", linewidth=0)
for nm, ang in zip(chrom_names, chrom_label_at):
    rot = 90 - ang if ang <= 180 else 270 - ang
    cc.text(np.radians(ang), 303, nm, fontsize=8.5, fontweight="bold",
            rotation=rot, rotation_mode="anchor", ha="center", va="center")

for nm, x, y, rot in (("DCLRE1B", 1426, 1268, 80), ("IL1RN", 1593, 1347, 52), ("HOMER1", 1737, 1752, -13),
                      ("CDK1", 1263, 2018, 82), ("RAN", 1083, 1914, 45), ("ADA", 1082, 1385, -50)):
    txt(x, y, nm, 11, rotation=rot, fontweight="bold")
for xs, ys in (([1425, 1417], [1305, 1342]),
               ([1578, 1568, 1554], [1374, 1392, 1404]),
               ([1664, 1702], [1731, 1743]),
               ([1273, 1271, 1267], [1953, 1974, 1989]),
               ([1098, 1087, 1107, 1098], [1840, 1847, 1889, 1897]),
               ([1097, 1105, 1126, 1132], [1403, 1412, 1410, 1421])):
    ov.plot(xs, ys, color="#222222", lw=1)

fig.savefig("out.png", dpi=100)
